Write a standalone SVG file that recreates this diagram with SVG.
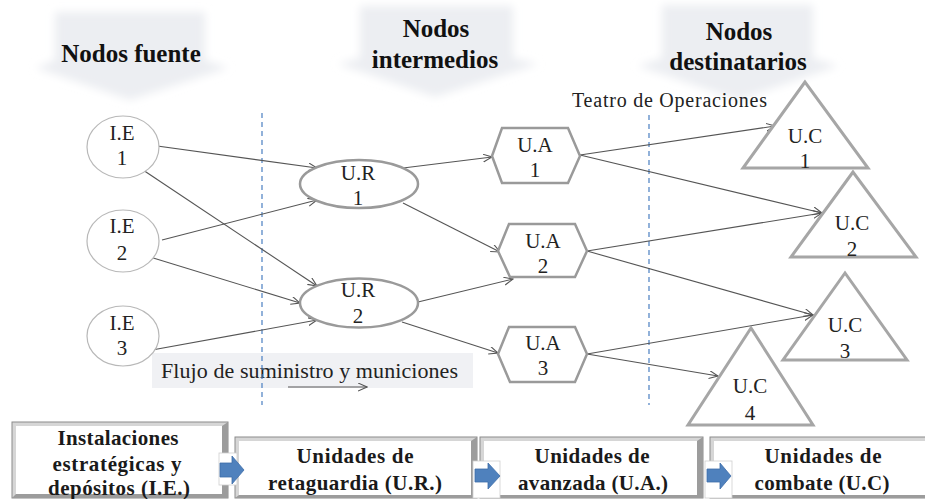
<svg xmlns="http://www.w3.org/2000/svg" width="925" height="499" viewBox="0 0 925 499">
<style>
.hdr{font-family:'Liberation Serif',serif;font-weight:bold;font-size:25px;fill:#111;text-anchor:middle}
.lbl{font-family:'Liberation Serif',serif;font-size:21px;fill:#222;text-anchor:middle}
.plain{font-family:'Liberation Serif',serif;fill:#222}
.bx{font-family:'Liberation Serif',serif;font-weight:bold;font-size:21px;fill:#1a1a1a;text-anchor:middle}
.ie{fill:#fff;stroke:#b8b8b8;stroke-width:1.2}
.ur{fill:#fff;stroke:#9a9a9a;stroke-width:2.5}
.ua{fill:#fff;stroke:#9a9a9a;stroke-width:2.5}
.uc{fill:#fff;stroke:#a6a6a6;stroke-width:3}
.edge{fill:none;stroke:#555;stroke-width:1.1;marker-end:url(#ah)}
.dash{stroke:#4a7fc1;stroke-width:1.2;stroke-dasharray:5,4}
.hbg{fill:#eceef2;filter:url(#blur)}
.outer{fill:#d6d6d6;stroke:#8c8c8c;stroke-width:1}
.dark{fill:#9c9c9c}
.inner{fill:#fff}
.sq{fill:#fff;stroke:#cfcfcf;stroke-width:0.8}
.blue{fill:#4f81bd;stroke:#3d6da8;stroke-width:0.8}
</style>
<defs>
<marker id="ah" markerWidth="10" markerHeight="10" refX="9" refY="4" orient="auto" markerUnits="userSpaceOnUse">
<path d="M0,0 L9,4 L0,8" fill="none" stroke="#555" stroke-width="1.1"/>
</marker>
<filter id="blur" x="-20%" y="-20%" width="140%" height="140%">
<feGaussianBlur stdDeviation="4"/>
</filter>
</defs>
<rect width="925" height="499" fill="#fff"/>

<g id="headers">
<path class="hbg" d="M55,12 L205,12 L205,60 L228,68 L130,100 L36,68 L55,60 Z"/>
<path class="hbg" d="M360,6 L513,6 L513,58 L538,64 L435,97 L338,64 L360,58 Z"/>
<path class="hbg" d="M662,5 L813,5 L813,58 L838,66 L738,100 L638,66 L662,58 Z"/>
<text class="hdr" x="131" y="62">Nodos fuente</text>
<text class="hdr" x="436" y="37">Nodos</text>
<text class="hdr" x="435" y="68">intermedios</text>
<text class="hdr" x="739" y="40">Nodos</text>
<text class="hdr" x="738" y="70">destinatarios</text>
</g>

<g id="flow-note">
<rect x="152" y="353" width="321" height="35" fill="#f0f1f4"/>
<text class="plain" x="161" y="378" font-size="22" textLength="297" lengthAdjust="spacing">Flujo de suministro y municiones</text>
</g>

<g id="theater">
<text class="plain" x="572" y="107" font-size="20" textLength="195" lengthAdjust="spacing">Teatro de Operaciones</text>
<line class="dash" x1="262" y1="113" x2="262" y2="405"/>
<line class="dash" x1="649" y1="115" x2="649" y2="405"/>
</g>

<g id="connectors">
<line class="edge" x1="150" y1="145" x2="317" y2="168"/>
<line class="edge" x1="143" y1="170" x2="317" y2="286"/>
<line class="edge" x1="162" y1="240" x2="317" y2="200"/>
<line class="edge" x1="150" y1="257" x2="300" y2="303"/>
<line class="edge" x1="152" y1="350" x2="317" y2="320"/>
<line class="edge" x1="403" y1="168" x2="492" y2="157"/>
<line class="edge" x1="403" y1="203" x2="500" y2="252"/>
<line class="edge" x1="418" y1="302" x2="513" y2="279"/>
<line class="edge" x1="402" y1="322" x2="498" y2="353"/>
<line class="edge" x1="580" y1="155" x2="775" y2="126"/>
<line class="edge" x1="580" y1="155" x2="822" y2="213"/>
<line class="edge" x1="587" y1="251" x2="822" y2="213"/>
<line class="edge" x1="587" y1="251" x2="813" y2="315"/>
<line class="edge" x1="587" y1="354" x2="813" y2="315"/>
<line class="edge" x1="587" y1="354" x2="718" y2="376"/>
<line class="edge" x1="288" y1="387" x2="367" y2="387"/>
</g>

<g id="ie1"><ellipse class="ie" cx="123" cy="147" rx="36" ry="31"/><text class="lbl" x="122" y="140">I.E</text><text class="lbl" x="122" y="165">1</text></g>
<g id="ie2"><ellipse class="ie" cx="123" cy="241" rx="36" ry="31"/><text class="lbl" x="122" y="233">I.E</text><text class="lbl" x="122" y="260">2</text></g>
<g id="ie3"><ellipse class="ie" cx="123" cy="336" rx="36" ry="30"/><text class="lbl" x="122" y="330">I.E</text><text class="lbl" x="122" y="355">3</text></g>

<g id="ur1"><ellipse class="ur" cx="359" cy="184" rx="59" ry="24"/><text class="lbl" x="358" y="180">U.R</text><text class="lbl" x="358" y="205">1</text></g>
<g id="ur2"><ellipse class="ur" cx="359" cy="303" rx="59" ry="24.5"/><text class="lbl" x="358" y="297">U.R</text><text class="lbl" x="358" y="323">2</text></g>

<g id="ua1"><polygon class="ua" points="492,156 502,128 568,128 580,156 568,183 502,183"/><text class="lbl" x="535" y="152">U.A</text><text class="lbl" x="535" y="177">1</text></g>
<g id="ua2"><polygon class="ua" points="498,251 509,224 575,224 587,251 575,277 510,277"/><text class="lbl" x="543" y="248">U.A</text><text class="lbl" x="543" y="273">2</text></g>
<g id="ua3"><polygon class="ua" points="498,354 509,327 575,327 587,354 575,382 510,382"/><text class="lbl" x="543" y="350">U.A</text><text class="lbl" x="543" y="375">3</text></g>

<g id="uc1"><polygon class="uc" points="805,82 743,168 868,168"/><text class="lbl" x="805" y="143">U.C</text><text class="lbl" x="805" y="168">1</text></g>
<g id="uc2"><polygon class="uc" points="853,172 791,257 916,257"/><text class="lbl" x="852" y="230">U.C</text><text class="lbl" x="852" y="256">2</text></g>
<g id="uc3"><polygon class="uc" points="845,273 783,360 907,360"/><text class="lbl" x="845" y="332">U.C</text><text class="lbl" x="845" y="358">3</text></g>
<g id="uc4"><polygon class="uc" points="751,328 688,425 813,425"/><text class="lbl" x="750" y="393">U.C</text><text class="lbl" x="750" y="420">4</text></g>

<g id="box-ie">
<rect class="outer" x="12" y="422" width="216" height="76"/>
<polygon class="dark" points="222,426 228,422 228,498 12,498 16,494 222,494"/>
<rect class="inner" x="16" y="426" width="206" height="68"/>
<text class="bx" x="118" y="445" textLength="121" lengthAdjust="spacing">Instalaciones</text>
<text class="bx" x="117" y="471" textLength="129" lengthAdjust="spacing">estratégicas y</text>
<text class="bx" x="119" y="495" textLength="142" lengthAdjust="spacing">depósitos (I.E.)</text>
</g>
<g id="box-ur">
<rect class="outer" x="235" y="437" width="242" height="61"/>
<polygon class="dark" points="471,441 477,437 477,498 235,498 239,495 471,495"/>
<rect class="inner" x="239" y="441" width="232" height="54"/>
<text class="bx" x="355" y="463" textLength="117" lengthAdjust="spacing">Unidades de</text>
<text class="bx" x="355" y="490" textLength="174" lengthAdjust="spacing">retaguardia (U.R.)</text>
</g>
<g id="box-ua">
<rect class="outer" x="480" y="437" width="223" height="61"/>
<polygon class="dark" points="697,441 703,437 703,498 480,498 484,495 697,495"/>
<rect class="inner" x="484" y="441" width="213" height="54"/>
<text class="bx" x="592" y="463" textLength="115" lengthAdjust="spacing">Unidades de</text>
<text class="bx" x="593" y="490" textLength="150" lengthAdjust="spacing">avanzada (U.A.)</text>
</g>
<g id="box-uc">
<rect class="outer" x="710" y="437" width="220" height="61"/>
<polygon class="dark" points="710,498 714,495 925,495 925,498"/>
<rect class="inner" x="714" y="441" width="216" height="54"/>
<text class="bx" x="823" y="463" textLength="117" lengthAdjust="spacing">Unidades de</text>
<text class="bx" x="822" y="490" textLength="135" lengthAdjust="spacing">combate (U.C)</text>
</g>

<g id="stage-arrows">
<rect class="sq" x="219" y="453" width="18" height="32"/>
<polygon class="blue" points="220,463 232,463 232,456 244,470 232,484 232,477 220,477"/>
<rect class="sq" x="473" y="461" width="27" height="37"/>
<polygon class="blue" points="475,469 488,469 488,463 500,476 488,489 488,482 475,482"/>
<rect class="sq" x="705" y="461" width="27" height="37"/>
<polygon class="blue" points="707,469 720,469 720,463 731,476 720,489 720,482 707,482"/>
</g>
</svg>
